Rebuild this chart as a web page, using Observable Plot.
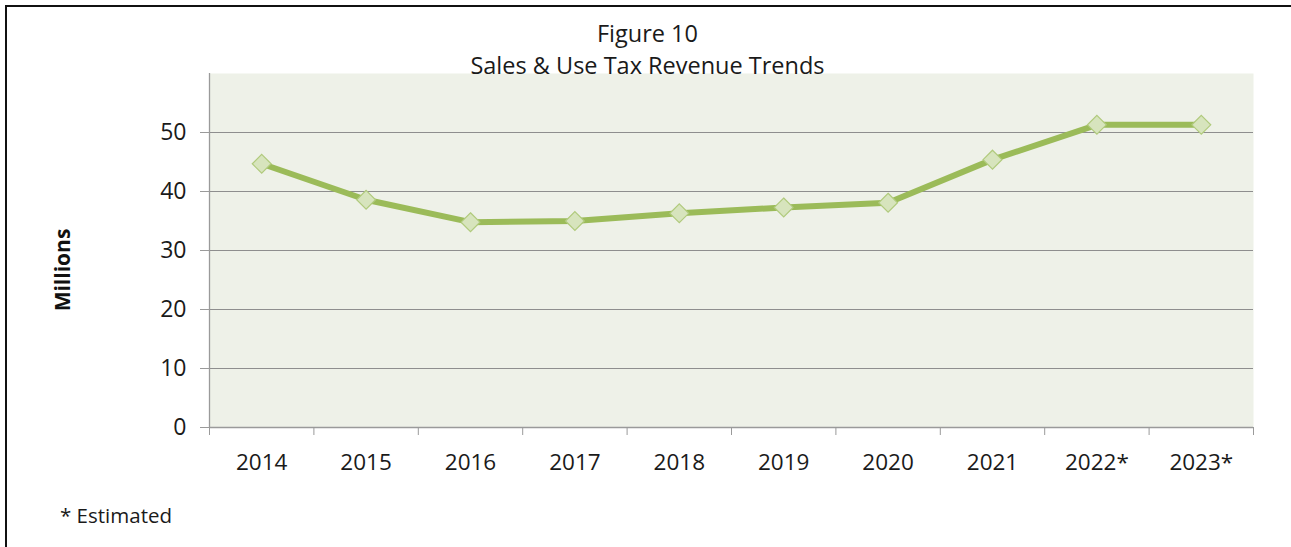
<!DOCTYPE html>
<html>
<head>
<meta charset="utf-8">
<script src="https://cdn.jsdelivr.net/npm/d3@7"></script>
<script src="https://cdn.jsdelivr.net/npm/@observablehq/plot@0.6"></script>
<style>
  body { margin: 0; background: #fff; font-family: "Open Sans", sans-serif; }
  #wrap { position: relative; width: 1291px; height: 547px; overflow: hidden; }
  #frame { position: absolute; left: 5px; top: 5px; width: 1400px; height: 600px; border-top: 2px solid #111; border-left: 2px solid #111; box-sizing: border-box; }
  #chart { position: absolute; left: 0; top: 0; }
  .t { position: absolute; left: 0; width: 1295px; text-align: center; color: #1a1a1a; font-size: 23.5px; line-height: 1; }
  #ylab { position: absolute; left: 62px; top: 270px; transform: translate(-50%, -50%) rotate(-90deg); font-weight: bold; font-size: 21px; color: #111; white-space: nowrap; }
  #note { position: absolute; left: 60px; top: 503px; font-size: 20.5px; color: #1a1a1a; line-height: 1.2; }
</style>
</head>
<body>
<div id="wrap">
  <div id="frame"></div>
  <div id="chart"></div>
  <div class="t" style="top:22px">Figure 10</div>
  <div class="t" style="top:54px">Sales &amp; Use Tax Revenue Trends</div>
  <div id="ylab">Millions</div>
  <div id="note">* Estimated</div>
</div>
<script>
const years = ["2014", "2015", "2016", "2017", "2018", "2019", "2020", "2021", "2022*", "2023*"];
const revenue = [44.7, 38.6, 34.8, 35.0, 36.3, 37.3, 38.1, 45.4, 51.3, 51.3];
const yTicks = [0, 10, 20, 30, 40, 50];
const gridLines = [10, 20, 30, 40, 50];

const data = years.map((y, i) => ({ year: y, pos: i + 0.5, value: revenue[i] }));
const boundaries = d3.range(years.length + 1);

const plot = Plot.plot({
  width: 1291,
  height: 547,
  marginLeft: 209,
  marginRight: 38,
  marginTop: 73,
  marginBottom: 120,
  style: { fontFamily: "Open Sans, sans-serif", background: "transparent" },
  x: { type: "linear", domain: [0, years.length] },
  y: { domain: [0, 60] },
  marks: [
    Plot.frame({ fill: "#eef1e8", stroke: null }),
    Plot.ruleY(gridLines, { stroke: "#8e8e8e", strokeWidth: 1.2 }),
    Plot.ruleX([0], { stroke: "#9a9a9a", strokeWidth: 1.3 }),
    Plot.ruleY([0], { stroke: "#9a9a9a", strokeWidth: 1.3 }),
    Plot.axisY({ ticks: yTicks, tickSize: 9, tickPadding: 14, stroke: "#9a9a9a", fontSize: 23, fill: "#1a1a1a", label: null, tickFormat: d => d }),
    Plot.axisX({ ticks: boundaries, tickSize: 8, tickFormat: () => "", stroke: "#9a9a9a", label: null }),
    Plot.axisX({ ticks: data.map(d => d.pos), tickSize: 0, tickPadding: 27, tickFormat: (d) => years[Math.floor(d)], fontSize: 22.5, fill: "#1a1a1a", label: null }),
    Plot.line(data, { x: "pos", y: "value", stroke: "#9bbb59", strokeWidth: 6, strokeLinejoin: "round" }),
    Plot.dot(data, { x: "pos", y: "value", symbol: "diamond2", r: 8.5, fill: "#d7e4bd", stroke: "#b0ca7c", strokeWidth: 1.2 })
  ]
});
document.getElementById("chart").appendChild(plot);
</script>
</body>
</html>
